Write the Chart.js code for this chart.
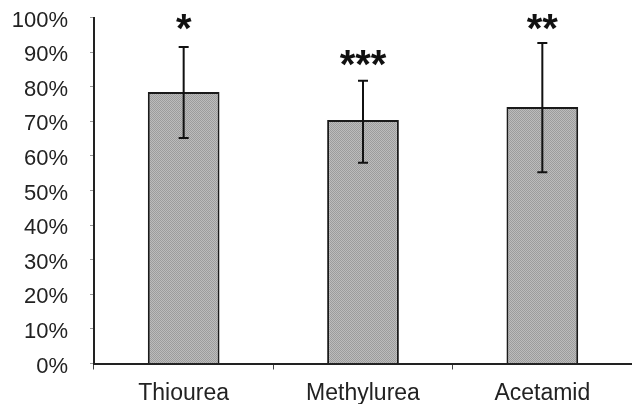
<!DOCTYPE html>
<html>
<head>
<meta charset="utf-8">
<script src="https://cdn.jsdelivr.net/npm/chart.js@4/dist/chart.umd.min.js"></script>
<style>
  html, body { margin: 0; padding: 0; background: #fff; }
  #wrap { width: 632px; height: 404px; }
</style>
</head>
<body>
<div id="wrap"><canvas id="chart_id"></canvas></div>
<script>
// values (percent)
const categories = ['Thiourea', 'Methylurea', 'Acetamid'];
const means = [78.5, 70.4, 74.1];
const errLow = [65.2, 58.0, 55.3];
const errHigh = [91.5, 81.7, 92.6];
const stars = ['*', '***', '**'];
const starLevel = [98.7, 88.3, 98.7];
const yTicks = [0, 10, 20, 30, 40, 50, 60, 70, 80, 90, 100];

// dotted grey fill like the printed screen
const pat = document.createElement('canvas');
pat.width = 2; pat.height = 2;
const pctx = pat.getContext('2d');
pctx.fillStyle = '#bcbcbc';
pctx.fillRect(0, 0, 2, 2);
pctx.fillStyle = '#9c9c9c';
pctx.fillRect(0, 0, 1, 1);
pctx.fillRect(1, 1, 1, 1);
const barFill = pctx.createPattern(pat, 'repeat');

// error bars + significance stars
const extras = {
    id: 'extras',
    afterDatasetsDraw(chart) {
        const c = chart.ctx;
        const x = chart.scales.x, y = chart.scales.y;
        c.save();
        c.strokeStyle = '#111';
        c.lineWidth = 2;
        for (let i = 0; i < categories.length; i++) {
            const px = x.getPixelForValue(i);
            const top = y.getPixelForValue(errHigh[i]);
            const bot = y.getPixelForValue(errLow[i]);
            c.beginPath();
            c.moveTo(px, top); c.lineTo(px, bot);
            c.moveTo(px - 5, top); c.lineTo(px + 5, top);
            c.moveTo(px - 5, bot); c.lineTo(px + 5, bot);
            c.stroke();
        }
        c.fillStyle = '#111';
        c.font = 'bold 40px "Liberation Sans", Arial, sans-serif';
        c.textAlign = 'center';
        c.textBaseline = 'alphabetic';
        for (let i = 0; i < categories.length; i++) {
            const px = x.getPixelForValue(i);
            c.fillText(stars[i], px, y.getPixelForValue(starLevel[i]) + 20);
        }
        c.restore();
    }
};

new Chart(document.getElementById('chart_id'), {
    type: 'bar',
    data: {
        labels: categories,
        datasets: [{
            data: means,
            backgroundColor: barFill,
            borderColor: '#1a1a1a',
            borderWidth: 2,
            barPercentage: 0.4,
            categoryPercentage: 1.0
        }]
    },
    options: {
        responsive: true,
        maintainAspectRatio: false,
        animation: false,
        layout: { padding: { left: 10, right: 0, top: 17.5, bottom: 0 } },
        plugins: { legend: { display: false }, tooltip: { enabled: false } },
        scales: {
            x: {
                afterFit: function (axis) { axis.height = 40.5; },
                grid: { drawOnChartArea: false, drawTicks: true, tickLength: 6, tickColor: '#444', offset: true },
                border: { display: true, color: '#222', width: 2 },
                ticks: { color: '#222', padding: 10, font: { family: '"Liberation Sans", Arial, sans-serif', size: 23 } }
            },
            y: {
                min: 0,
                max: 100,
                afterFit: function (axis) {
                    axis.width = 84;
                    axis.paddingTop = 0;
                    axis.paddingBottom = 0;
                },
                afterBuildTicks: function (axis) { axis.ticks = yTicks.map(function (v) { return { value: v }; }); },
                grid: { drawOnChartArea: false, drawTicks: true, tickLength: 4, tickColor: '#999' },
                border: { display: true, color: '#222', width: 2 },
                ticks: {
                    color: '#222',
                    padding: 22,
                    labelOffset: 3,
                    font: { family: '"Liberation Sans", Arial, sans-serif', size: 22 },
                    callback: function (v) { return v + '%'; }
                }
            }
        }
    },
    plugins: [extras]
});
</script>
</body>
</html>
